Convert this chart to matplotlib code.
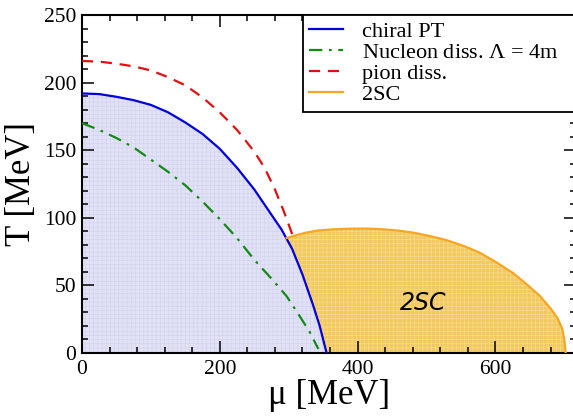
import numpy as np
import matplotlib
matplotlib.use("Agg")
import matplotlib.pyplot as plt

# phase boundaries, mu and T in MeV
chiral_mu = [0, 25, 50, 75, 100, 125, 150, 175, 200, 225, 250, 270, 290, 305, 320, 335, 345, 355]
chiral_T = [192, 191.5, 189.5, 187, 183.5, 178, 170.5, 162, 151, 137, 121, 106, 91, 77, 58, 36, 20, 0]

nucleon_mu = [0, 25, 50, 75, 100, 125, 150, 175, 200, 225, 250, 275, 297, 315, 330, 343]
nucleon_T = [170, 165, 159, 152, 143, 134, 124, 112, 99, 85, 69, 55, 42, 28, 16, 3]

pion_mu = [0, 25, 50, 75, 100, 125, 150, 175, 200, 225, 250, 265, 280, 292, 305]
pion_T = [216, 215.5, 214, 212, 209, 204, 198, 189, 178, 165, 149, 137, 121, 106, 88]

tsc_mu = [297, 310, 325, 341, 365, 390, 415, 437, 460, 481, 505, 529, 555, 578,
          600, 626, 645, 665, 680, 690, 697, 700, 702]
tsc_T = [85, 87, 89, 90.5, 91.5, 92, 92, 91.5, 90.5, 89, 86.5, 83.5, 79, 74,
         67.5, 59, 51, 42, 33, 26, 18, 10, 0]

labels = ["chiral PT", "Nucleon diss. $\\Lambda$ = 4m", "pion diss.", "2SC"]

plt.rcParams["font.family"] = ["Liberation Serif", "DejaVu Serif"]
plt.rcParams["mathtext.fontset"] = "custom"
plt.rcParams["mathtext.rm"] = "Liberation Serif"
plt.rcParams["mathtext.it"] = "Liberation Serif"
plt.rcParams["hatch.linewidth"] = 0.5

fig = plt.figure(figsize=(5.73, 4.17), dpi=100)
ax = fig.add_axes([82 / 573, 1 - 353 / 417, 494 / 573, 338 / 417])

# hadronic region under the chiral line
ax.fill_between(chiral_mu, chiral_T, 0, facecolor="#e2e2f6", edgecolor="#d4d4f2",
                hatch="++++", linewidth=0, zorder=1)

# 2SC region: orange line on top, chiral line on the left
cmu = np.array(chiral_mu)
cT = np.array(chiral_T)
left = cmu > tsc_mu[0]
poly_mu = np.concatenate([tsc_mu, cmu[left][::-1]])
poly_T = np.concatenate([tsc_T, cT[left][::-1]])
ax.fill(poly_mu, poly_T, facecolor="#f2c95c", edgecolor="#f7da90",
        hatch="++++", linewidth=0, zorder=1)

ax.plot(chiral_mu, chiral_T, color="#0000dd", lw=1.6, label=labels[0], zorder=3)
ax.plot(nucleon_mu, nucleon_T, color="#138a13", lw=1.6, dashes=(6, 3, 1.2, 3),
        label=labels[1], zorder=3)
ax.plot(pion_mu, pion_T, color="#e01010", lw=1.6, dashes=(5, 3.5), label=labels[2], zorder=3)
ax.plot(tsc_mu, tsc_T, color="#f5a623", lw=1.6, label=labels[3], zorder=3)

ax.text(495, 37, "2SC", family="DejaVu Sans", style="italic", fontsize=17,
        ha="center", va="center", zorder=4)

ax.set_xlim(0, 717)
ax.set_ylim(0, 250)
ax.set_xticks([0, 200, 400, 600])
ax.set_xticks(np.arange(0, 720, 40), minor=True)
ax.set_yticks(np.arange(0, 251, 50))
ax.set_yticks(np.arange(0, 251, 10), minor=True)
ax.tick_params(which="both", direction="in", top=True, right=True, labelsize=15.5)
ax.tick_params(which="major", length=8.5, width=1.1)
ax.tick_params(which="minor", length=4, width=1.1)
ax.tick_params(axis="x", pad=5)
ax.tick_params(axis="y", pad=4)
for s in ax.spines.values():
    s.set_linewidth(1.5)

ax.set_xlabel("\u03bc [MeV]", fontsize=25, labelpad=0)
ax.set_ylabel("T [MeV]", fontsize=25, labelpad=4)

leg = ax.legend(loc="upper left", bbox_to_anchor=(0.447, 0.0, 0.553, 1.0),
                mode="expand", borderaxespad=0, fancybox=False, framealpha=1,
                edgecolor="black", fontsize=16, handlelength=1.5,
                handletextpad=0.85, labelspacing=0.02, borderpad=0.3)
leg.get_frame().set_linewidth(1.3)

fig.savefig("out.png", dpi=100)
